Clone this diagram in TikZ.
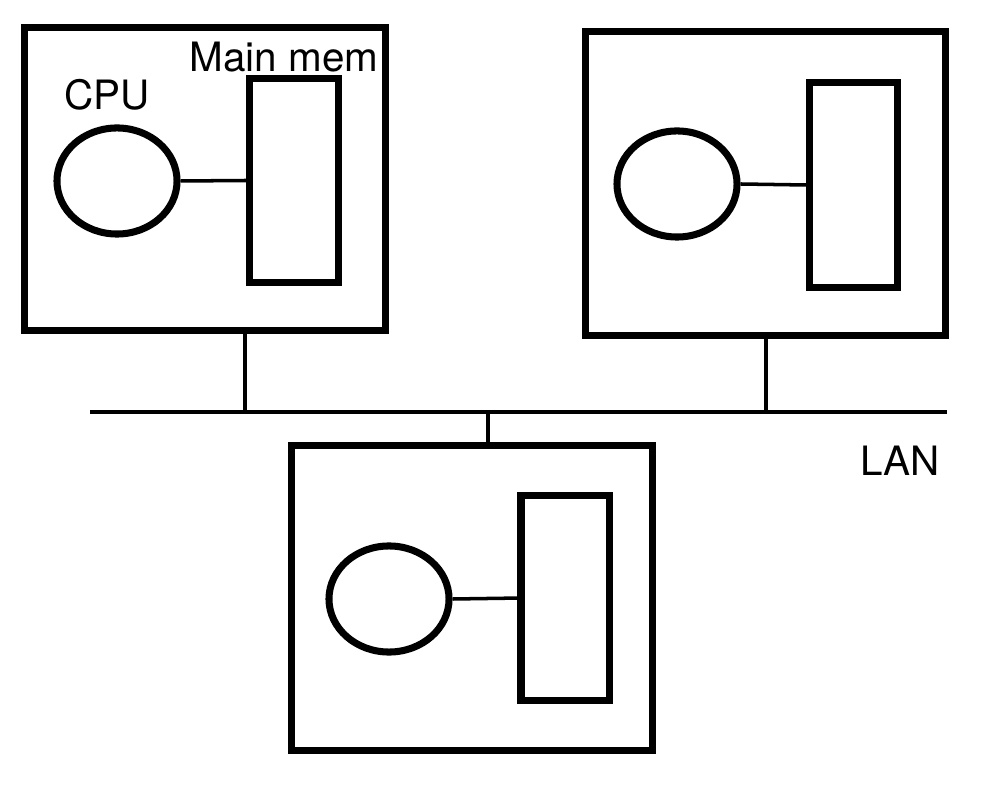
\documentclass[tikz,border=0pt]{standalone}
\usepackage{fontspec}
\setmainfont{TeX Gyre Heros}
\usetikzlibrary{shapes.geometric}
\begin{document}
\begin{tikzpicture}[x=0.01cm, y=-0.01cm, every node/.style={inner sep=0pt}]
\useasboundingbox (0,0) rectangle (998,798);

% machines
\begin{scope}[every node/.style={draw, rectangle, line width=2pt, inner sep=0pt}]
\node[minimum width=3.60cm, minimum height=3.02cm] (PC1) at (205,179) {};
\node[minimum width=3.59cm, minimum height=3.03cm] (PC2) at (765.5,183.5) {};
\node[minimum width=3.60cm, minimum height=3.04cm] (PC3) at (472,598) {};
\end{scope}

% processors
\begin{scope}[every node/.style={draw, ellipse, line width=2pt, inner sep=0pt, minimum width=1.20cm, minimum height=1.06cm}]
\node (CPU1) at (117,181) {};
\node (CPU2) at (677,184) {};
\node (CPU3) at (389,599) {};
\end{scope}

% memories
\begin{scope}[every node/.style={draw, rectangle, line width=2pt, inner sep=0pt, minimum width=0.88cm, minimum height=2.04cm}]
\node (MEM1) at (294,180.5) {};
\node (MEM2) at (853.5,185) {};
\node (MEM3) at (565,598) {};
\end{scope}

\draw[line width=1pt] (CPU1.east) -- (MEM1.west);
\draw[line width=1pt] (CPU2.east) -- (MEM2.west);
\draw[line width=1pt] (CPU3.east) -- ([xshift=0.04cm]MEM3.west);

% network
\coordinate (LANW) at (90,412);
\coordinate (LANE) at (947,412);
\coordinate (T1) at (245,412);
\coordinate (T2) at (766,412);
\coordinate (T3) at (488,412);
\draw[line width=1pt] (LANW) -- (LANE);
\draw[line width=1pt] (T1) -- (T1 |- PC1.south);
\draw[line width=1pt] (T2) -- (T2 |- PC2.south);
\draw[line width=1pt] (T3) -- (T3 |- PC3.north);

\fontsize{11.5}{13}\selectfont
\node (cpulabel) at (107,95) {CPU};
\node (memlabel) at (284,57) {Main mem};
\node (lanlabel) at (900,461) {LAN};

\end{tikzpicture}
\end{document}
